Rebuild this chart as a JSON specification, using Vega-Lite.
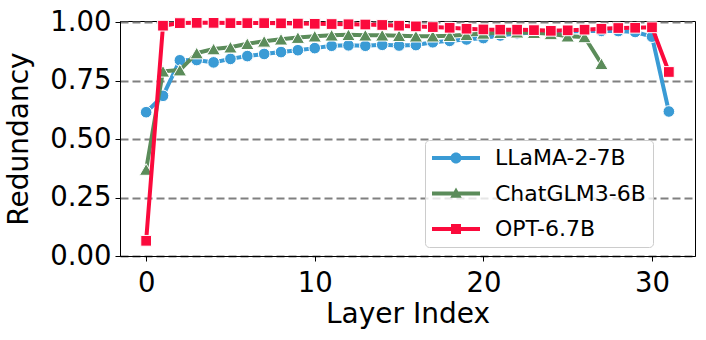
{
  "$schema": "https://vega.github.io/schema/vega-lite/v6.json",
  "autosize": {"type": "none"},
  "width": 575,
  "height": 235,
  "padding": {"left": 120, "top": 21, "right": 11, "bottom": 84},
  "background": "white",
  "config": {
    "font": "DejaVu Sans",
    "view": {"stroke": "black", "strokeWidth": 1},
    "axis": {
      "labelFont": "DejaVu Sans", "titleFont": "DejaVu Sans",
      "labelFontSize": 27.5, "titleFontSize": 28, "titleFontWeight": "normal",
      "labelColor": "black", "titleColor": "black",
      "tickColor": "black", "tickSize": 5, "tickWidth": 1,
      "domainColor": "black", "domainWidth": 1,
      "labelPadding": 4
    }
  },
  "data": {"values": [
    {"model": "LLaMA-2-7B", "layer": 0, "value": 0.615},
    {"model": "LLaMA-2-7B", "layer": 1, "value": 0.685},
    {"model": "LLaMA-2-7B", "layer": 2, "value": 0.837},
    {"model": "LLaMA-2-7B", "layer": 3, "value": 0.838},
    {"model": "LLaMA-2-7B", "layer": 4, "value": 0.828},
    {"model": "LLaMA-2-7B", "layer": 5, "value": 0.843},
    {"model": "LLaMA-2-7B", "layer": 6, "value": 0.855},
    {"model": "LLaMA-2-7B", "layer": 7, "value": 0.864},
    {"model": "LLaMA-2-7B", "layer": 8, "value": 0.872},
    {"model": "LLaMA-2-7B", "layer": 9, "value": 0.880},
    {"model": "LLaMA-2-7B", "layer": 10, "value": 0.889},
    {"model": "LLaMA-2-7B", "layer": 11, "value": 0.899},
    {"model": "LLaMA-2-7B", "layer": 12, "value": 0.901},
    {"model": "LLaMA-2-7B", "layer": 13, "value": 0.899},
    {"model": "LLaMA-2-7B", "layer": 14, "value": 0.903},
    {"model": "LLaMA-2-7B", "layer": 15, "value": 0.900},
    {"model": "LLaMA-2-7B", "layer": 16, "value": 0.902},
    {"model": "LLaMA-2-7B", "layer": 17, "value": 0.914},
    {"model": "LLaMA-2-7B", "layer": 18, "value": 0.920},
    {"model": "LLaMA-2-7B", "layer": 19, "value": 0.926},
    {"model": "LLaMA-2-7B", "layer": 20, "value": 0.932},
    {"model": "LLaMA-2-7B", "layer": 21, "value": 0.943},
    {"model": "LLaMA-2-7B", "layer": 22, "value": 0.952},
    {"model": "LLaMA-2-7B", "layer": 23, "value": 0.956},
    {"model": "LLaMA-2-7B", "layer": 24, "value": 0.958},
    {"model": "LLaMA-2-7B", "layer": 25, "value": 0.960},
    {"model": "LLaMA-2-7B", "layer": 26, "value": 0.962},
    {"model": "LLaMA-2-7B", "layer": 27, "value": 0.963},
    {"model": "LLaMA-2-7B", "layer": 28, "value": 0.962},
    {"model": "LLaMA-2-7B", "layer": 29, "value": 0.958},
    {"model": "LLaMA-2-7B", "layer": 30, "value": 0.938},
    {"model": "LLaMA-2-7B", "layer": 31, "value": 0.618},
    {"model": "ChatGLM3-6B", "layer": 0, "value": 0.37},
    {"model": "ChatGLM3-6B", "layer": 1, "value": 0.79},
    {"model": "ChatGLM3-6B", "layer": 2, "value": 0.795},
    {"model": "ChatGLM3-6B", "layer": 3, "value": 0.868},
    {"model": "ChatGLM3-6B", "layer": 4, "value": 0.885},
    {"model": "ChatGLM3-6B", "layer": 5, "value": 0.893},
    {"model": "ChatGLM3-6B", "layer": 6, "value": 0.908},
    {"model": "ChatGLM3-6B", "layer": 7, "value": 0.918},
    {"model": "ChatGLM3-6B", "layer": 8, "value": 0.927},
    {"model": "ChatGLM3-6B", "layer": 9, "value": 0.934},
    {"model": "ChatGLM3-6B", "layer": 10, "value": 0.940},
    {"model": "ChatGLM3-6B", "layer": 11, "value": 0.944},
    {"model": "ChatGLM3-6B", "layer": 12, "value": 0.946},
    {"model": "ChatGLM3-6B", "layer": 13, "value": 0.944},
    {"model": "ChatGLM3-6B", "layer": 14, "value": 0.944},
    {"model": "ChatGLM3-6B", "layer": 15, "value": 0.942},
    {"model": "ChatGLM3-6B", "layer": 16, "value": 0.940},
    {"model": "ChatGLM3-6B", "layer": 17, "value": 0.940},
    {"model": "ChatGLM3-6B", "layer": 18, "value": 0.942},
    {"model": "ChatGLM3-6B", "layer": 19, "value": 0.946},
    {"model": "ChatGLM3-6B", "layer": 20, "value": 0.952},
    {"model": "ChatGLM3-6B", "layer": 21, "value": 0.955},
    {"model": "ChatGLM3-6B", "layer": 22, "value": 0.957},
    {"model": "ChatGLM3-6B", "layer": 23, "value": 0.955},
    {"model": "ChatGLM3-6B", "layer": 24, "value": 0.950},
    {"model": "ChatGLM3-6B", "layer": 25, "value": 0.940},
    {"model": "ChatGLM3-6B", "layer": 26, "value": 0.937},
    {"model": "ChatGLM3-6B", "layer": 27, "value": 0.822},
    {"model": "OPT-6.7B", "layer": 0, "value": 0.065},
    {"model": "OPT-6.7B", "layer": 1, "value": 0.985},
    {"model": "OPT-6.7B", "layer": 2, "value": 0.996},
    {"model": "OPT-6.7B", "layer": 3, "value": 0.997},
    {"model": "OPT-6.7B", "layer": 4, "value": 0.997},
    {"model": "OPT-6.7B", "layer": 5, "value": 0.996},
    {"model": "OPT-6.7B", "layer": 6, "value": 0.996},
    {"model": "OPT-6.7B", "layer": 7, "value": 0.996},
    {"model": "OPT-6.7B", "layer": 8, "value": 0.995},
    {"model": "OPT-6.7B", "layer": 9, "value": 0.994},
    {"model": "OPT-6.7B", "layer": 10, "value": 0.993},
    {"model": "OPT-6.7B", "layer": 11, "value": 0.992},
    {"model": "OPT-6.7B", "layer": 12, "value": 0.991},
    {"model": "OPT-6.7B", "layer": 13, "value": 0.990},
    {"model": "OPT-6.7B", "layer": 14, "value": 0.988},
    {"model": "OPT-6.7B", "layer": 15, "value": 0.985},
    {"model": "OPT-6.7B", "layer": 16, "value": 0.982},
    {"model": "OPT-6.7B", "layer": 17, "value": 0.979},
    {"model": "OPT-6.7B", "layer": 18, "value": 0.976},
    {"model": "OPT-6.7B", "layer": 19, "value": 0.972},
    {"model": "OPT-6.7B", "layer": 20, "value": 0.969},
    {"model": "OPT-6.7B", "layer": 21, "value": 0.968},
    {"model": "OPT-6.7B", "layer": 22, "value": 0.968},
    {"model": "OPT-6.7B", "layer": 23, "value": 0.966},
    {"model": "OPT-6.7B", "layer": 24, "value": 0.963},
    {"model": "OPT-6.7B", "layer": 25, "value": 0.965},
    {"model": "OPT-6.7B", "layer": 26, "value": 0.968},
    {"model": "OPT-6.7B", "layer": 27, "value": 0.972},
    {"model": "OPT-6.7B", "layer": 28, "value": 0.975},
    {"model": "OPT-6.7B", "layer": 29, "value": 0.976},
    {"model": "OPT-6.7B", "layer": 30, "value": 0.978},
    {"model": "OPT-6.7B", "layer": 31, "value": 0.787}
  ]},
  "encoding": {
    "x": {"field": "layer", "type": "quantitative",
          "scale": {"domain": [-1.55, 32.55], "nice": false, "zero": false},
          "axis": {"title": "Layer Index", "values": [0, 10, 20, 30], "grid": false, "labelPadding": 8, "titlePadding": 4}},
    "y": {"field": "value", "type": "quantitative",
          "scale": {"domain": [0, 1.005], "nice": false},
          "axis": {"title": "Redundancy", "values": [0, 0.25, 0.5, 0.75, 1], "format": ".2f",
                   "grid": true, "gridDash": [8, 4], "gridColor": "#808080", "gridWidth": 2, "gridOpacity": 1,
                   "titlePadding": 16}},
    "color": {"field": "model", "type": "nominal",
              "scale": {"domain": ["LLaMA-2-7B", "ChatGLM3-6B", "OPT-6.7B"], "range": ["#3a9bd5", "#5b8c5a", "#fb0a3c"]},
              "legend": {
                "title": null, "orient": "none", "legendX": 305, "legendY": 119,
                "padding": 7, "fillColor": "rgba(255,255,255,0.8)", "strokeColor": "#cccccc", "cornerRadius": 4,
                "labelFontSize": 22, "labelFont": "DejaVu Sans", "labelColor": "black",
                "symbolSize": 100, "symbolOffset": 13, "labelOffset": 28, "rowPadding": 13.5,
                "symbolStrokeWidth": 0,
                "encode": {"symbols": {"update": {
                  "shape": {"signal": "datum.value === 'LLaMA-2-7B' ? 'M-4.8,-0.4H4.8V0.4H-4.8Z M-1.1,0A1.1,1.1,0,1,1,1.1,0A1.1,1.1,0,1,1,-1.1,0Z' : datum.value === 'ChatGLM3-6B' ? 'M-4.8,-0.4H4.8V0.4H-4.8Z M0,-1.2L1.15,0.85L-1.15,0.85Z' : 'M-4.8,-0.4H4.8V0.4H-4.8Z M-1,-1H1V1H-1Z'"},
                  "fill": {"scale": "color", "field": "value"},
                  "stroke": {"value": "transparent"},
                  "strokeWidth": {"value": 0},
                  "opacity": {"value": 1},
                  "fillOpacity": {"value": 1}
                }}}
              }}
  },
  "layer": [
    {"transform": [{"filter": "datum.model === 'LLaMA-2-7B'"}], "mark": {"type": "line", "strokeWidth": 4}},
    {"transform": [{"filter": "datum.model === 'LLaMA-2-7B'"}], "mark": {"type": "point", "shape": "circle", "filled": true, "size": 135, "stroke": "white", "strokeWidth": 1, "opacity": 1}},
    {"transform": [{"filter": "datum.model === 'ChatGLM3-6B'"}], "mark": {"type": "line", "strokeWidth": 4}},
    {"transform": [{"filter": "datum.model === 'ChatGLM3-6B'"}], "mark": {"type": "point", "shape": "triangle-up", "filled": true, "size": 180, "stroke": "white", "strokeWidth": 1, "opacity": 1}},
    {"transform": [{"filter": "datum.model === 'OPT-6.7B'"}], "mark": {"type": "line", "strokeWidth": 4}},
    {"transform": [{"filter": "datum.model === 'OPT-6.7B'"}], "mark": {"type": "point", "shape": "square", "filled": true, "size": 115, "stroke": "white", "strokeWidth": 1, "opacity": 1}}
  ]
}
